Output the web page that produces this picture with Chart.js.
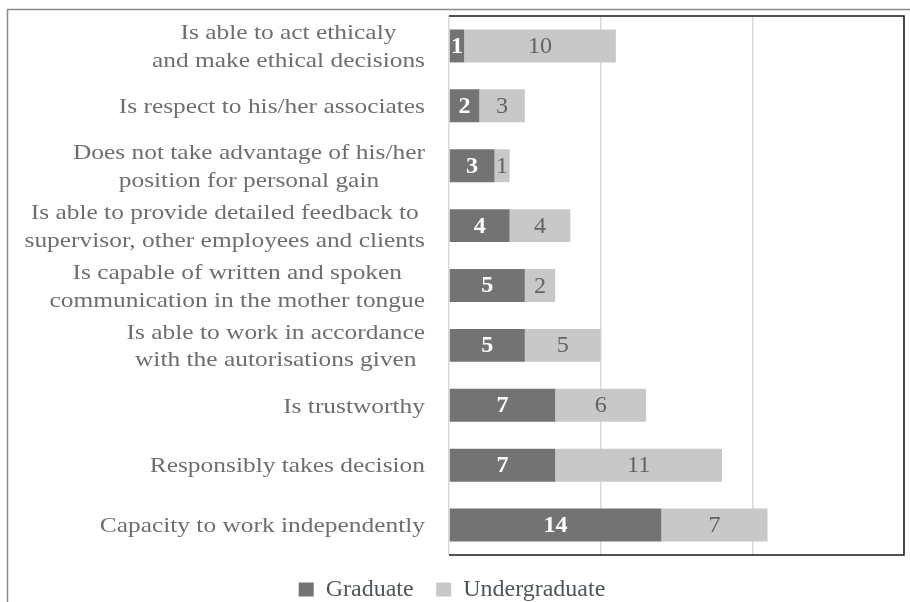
<!DOCTYPE html>
<html>
<head>
<meta charset="utf-8">
<script src="https://cdn.jsdelivr.net/npm/chart.js@4/dist/chart.umd.min.js"></script>
<style>
html,body{margin:0;padding:0;background:#fff;}
#wrap{width:910px;height:602px;position:relative;}
</style>
</head>
<body>
<div id="wrap"><canvas id="c" width="910" height="602"></canvas></div>
<script>
const categories = [
  ["Is able to act ethicaly", "and make ethical decisions"],
  "Is respect to his/her associates",
  ["Does not take advantage of his/her", "position for personal gain"],
  ["Is able to provide detailed feedback to", "supervisor, other employees and clients"],
  ["Is capable of written and spoken", "communication in the mother tongue"],
  ["Is able to work in accordance", "with the autorisations given"],
  "Is trustworthy",
  "Responsibly takes decision",
  "Capacity to work independently"
];
const graduate = [1, 2, 3, 4, 5, 5, 7, 7, 14];
const undergraduate = [10, 3, 1, 4, 2, 5, 6, 11, 7];
const seriesNames = ["Graduate", "Undergraduate"];

const FONT = "'Liberation Serif', 'Times New Roman', serif";
const LABEL_COLOR = "#6e6e6e";
const VALUE_COLOR = "#636363";
const LEGEND_COLOR = "#4f5659";
const LABEL_SIZE = 22;
const LABEL_STRETCH = 1.155;
const LINE_GAP = 27.5;

const framePlugin = {
  id: 'frame',
  beforeDraw(chart) {
    const ctx = chart.ctx;
    ctx.save();
    ctx.fillStyle = '#fff';
    ctx.fillRect(0, 0, chart.width, chart.height);
    ctx.strokeStyle = '#8a8a8a';
    ctx.lineWidth = 1.5;
    ctx.beginPath();
    ctx.moveTo(7.5, chart.height);
    ctx.lineTo(7.5, 9.5);
    ctx.lineTo(chart.width, 9.5);
    ctx.stroke();
    ctx.restore();
  },
  afterDatasetsDraw(chart) {
    const ctx = chart.ctx;
    const a = chart.chartArea;
    ctx.save();
    // plot box: top, right, bottom
    ctx.strokeStyle = '#1a1a1a';
    ctx.lineWidth = 1.5;
    ctx.beginPath();
    ctx.moveTo(a.left, a.top);
    ctx.lineTo(a.right, a.top);
    ctx.lineTo(a.right, a.bottom);
    ctx.lineTo(a.left, a.bottom);
    ctx.stroke();

    // category labels (block right-aligned, lines centred)
    const yScale = chart.scales.y;
    ctx.font = LABEL_SIZE + 'px ' + FONT;
    ctx.fillStyle = LABEL_COLOR;
    ctx.textBaseline = 'middle';
    ctx.textAlign = 'center';
    const rightEdge = a.left - 24;
    chart.data.labels.forEach((lab, i) => {
      const lines = Array.isArray(lab) ? lab : [lab];
      const widths = lines.map(t => ctx.measureText(t).width * LABEL_STRETCH);
      const maxW = Math.max(...widths);
      const cx = rightEdge - maxW / 2;
      const cy = yScale.getPixelForTick(i) + 1.5;
      lines.forEach((t, k) => {
        const ly = cy + (k - (lines.length - 1) / 2) * LINE_GAP;
        ctx.save();
        ctx.translate(cx, ly);
        ctx.scale(LABEL_STRETCH, 1);
        ctx.fillText(t, 0, 0);
        ctx.restore();
      });
    });

    // value labels
    chart.data.datasets.forEach((ds, di) => {
      const meta = chart.getDatasetMeta(di);
      meta.data.forEach((el, i) => {
        const v = ds.data[i];
        const x = (el.x + el.base) / 2;
        ctx.font = (di === 0 ? 'bold ' : '') + '23px ' + FONT;
        ctx.fillStyle = di === 0 ? '#ffffff' : VALUE_COLOR;
        ctx.textAlign = 'center';
        ctx.textBaseline = 'middle';
        ctx.save();
        ctx.translate(x, el.y + 1);
        ctx.scale(1.05, 1);
        ctx.fillText(String(v), 0, 0);
        ctx.restore();
      });
    });
    ctx.restore();
  }
};

new Chart(document.getElementById('c'), {
  type: 'bar',
  data: {
    labels: categories,
    datasets: [
      { label: seriesNames[0], data: graduate, backgroundColor: '#737373', borderWidth: 0 },
      { label: seriesNames[1], data: undergraduate, backgroundColor: '#c8c8c8', borderWidth: 0 }
    ]
  },
  options: {
    indexAxis: 'y',
    responsive: false,
    animation: false,
    datasets: { bar: { barPercentage: 0.55, categoryPercentage: 1 } },
    layout: { padding: { top: 16, right: 6, left: 0, bottom: -9.5 } },
    scales: {
      x: {
        stacked: true,
        min: 0, max: 30,
        ticks: { display: false, stepSize: 10 },
        grid: { color: '#d9d9d9', lineWidth: 1.5, drawTicks: false },
        border: { display: false }
      },
      y: {
        stacked: true,
        grid: { display: false, drawTicks: false },
        border: { display: false },
        ticks: { display: false },
        afterFit(s) { s.width = 449; }
      }
    },
    plugins: {
      legend: {
        position: 'bottom',
        labels: {
          color: LEGEND_COLOR,
          font: { family: FONT, size: 24 },
          boxWidth: 15, boxHeight: 14,
          padding: 22.5
        }
      },
      tooltip: { enabled: false }
    }
  },
  plugins: [framePlugin]
});
</script>
</body>
</html>
